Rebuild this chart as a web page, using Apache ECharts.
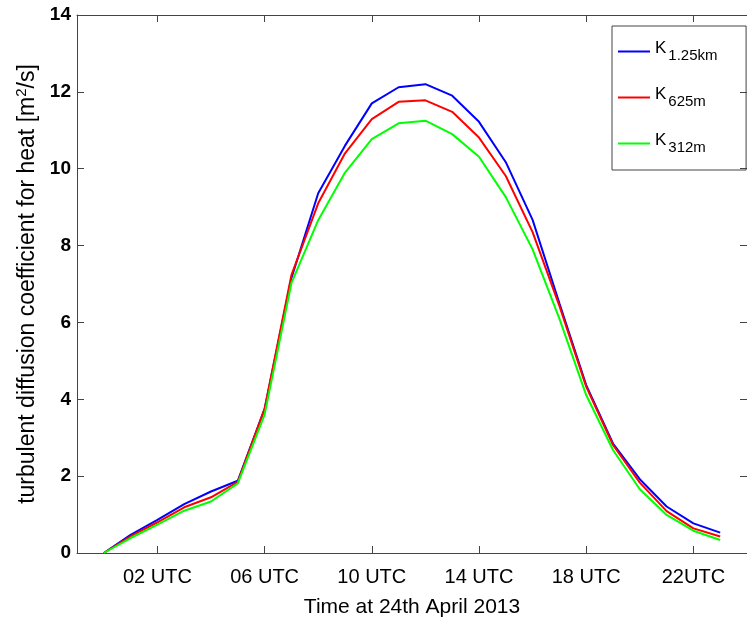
<!DOCTYPE html>
<html>
<head>
<meta charset="utf-8">
<script src="https://cdn.jsdelivr.net/npm/echarts@6/dist/echarts.min.js"></script>
<style>
  html, body { margin: 0; padding: 0; background: #fff; }
  #chart { width: 747px; height: 623px; }
</style>
</head>
<body>
<div id="chart"></div>
<script>
// hours of the day (UTC), one value per hour
const hours = [0, 1, 2, 3, 4, 5, 6, 7, 8, 9, 10, 11, 12, 13, 14, 15, 16, 17, 18, 19, 20, 21, 22, 23];
const k1250 = [0, 0.47, 0.86, 1.27, 1.60, 1.88, 3.75, 7.15, 9.36, 10.60, 11.70, 12.12, 12.20, 11.90, 11.22, 10.17, 8.67, 6.50, 4.37, 2.85, 1.92, 1.21, 0.77, 0.53];
const k625 = [0, 0.43, 0.80, 1.19, 1.45, 1.85, 3.75, 7.23, 9.10, 10.40, 11.29, 11.74, 11.78, 11.48, 10.81, 9.81, 8.35, 6.43, 4.33, 2.81, 1.83, 1.09, 0.64, 0.43];
const k312 = [0, 0.39, 0.74, 1.10, 1.34, 1.81, 3.60, 7.02, 8.66, 9.90, 10.77, 11.18, 11.25, 10.90, 10.31, 9.26, 7.90, 6.10, 4.11, 2.68, 1.66, 0.99, 0.58, 0.34];

const tickHours = [2, 6, 10, 14, 18, 22];
const tickLabels = ['02 UTC', '06 UTC', '10 UTC', '14 UTC', '18 UTC', '22UTC'];
const subs = ['1.25km', '625m', '312m'];

const pairs = (vals) => hours.map((h, i) => [h, vals[i]]);

const chart = echarts.init(document.getElementById('chart'));
const axisCol = '#444';
const font = 'Liberation Sans, Arial, sans-serif';

const option = {
  animation: false,
  grid: { left: 77, top: 15, right: -8, bottom: 70 },
  legend: {
    orient: 'vertical',
    left: 612,
    top: 26,
    itemWidth: 32,
    itemHeight: 2,
    itemGap: 23,
    padding: [14, 28, 15, 6],
    borderColor: '#444',
    borderWidth: 1,
    icon: 'rect',
    // K with the grid size as a subscript
    formatter: (name) => '{k|K}{s|' + name.slice(1) + '}{h| }',
    textStyle: {
      fontFamily: font,
      color: '#000',
      rich: {
        k: { fontSize: 17, lineHeight: 17, verticalAlign: 'top', fontFamily: font, color: '#000' },
        s: { fontSize: 15, lineHeight: 8, verticalAlign: 'bottom', padding: [0, 0, 0, 2], fontFamily: font, color: '#000' },
        h: { fontSize: 2, lineHeight: 23 }
      }
    },
    data: subs.map(s => 'K' + s)
  },
  xAxis: [{
    type: 'value',
    min: -1,
    max: 24,
    name: 'Time at 24th April 2013',
    nameLocation: 'middle',
    nameGap: 44,
    nameTextStyle: { fontSize: 21, fontFamily: font, color: '#000' },
    axisLine: { onZero: false, lineStyle: { color: axisCol } },
    axisTick: { inside: true, length: 7, customValues: tickHours, lineStyle: { color: axisCol } },
    axisLabel: {
      customValues: tickHours,
      formatter: (v) => tickLabels[tickHours.indexOf(v)],
      fontSize: 20, fontFamily: font, color: '#000', margin: 14
    },
    splitLine: { show: false }
  }, {
    type: 'value',
    position: 'top',
    min: -1,
    max: 24,
    axisLine: { show: true, onZero: false, lineStyle: { color: axisCol } },
    axisTick: { show: true, inside: true, length: 7, customValues: tickHours, lineStyle: { color: axisCol } },
    axisLabel: { show: false },
    splitLine: { show: false }
  }],
  yAxis: [{
    type: 'value',
    min: 0,
    max: 14,
    interval: 2,
    name: 'turbulent diffusion coefficient for heat [m{sup|2}/s]',
    nameLocation: 'middle',
    nameGap: 34,
    nameTextStyle: {
      fontSize: 23, fontFamily: font, color: '#000',
      rich: { sup: { fontSize: 15, fontFamily: font, color: '#000', verticalAlign: 'top', lineHeight: 27 } }
    },
    axisLine: { show: true, onZero: false, lineStyle: { color: axisCol } },
    axisTick: { show: true, inside: true, length: 7, lineStyle: { color: axisCol } },
    axisLabel: { fontSize: 19, fontWeight: 'bold', fontFamily: font, color: '#000', margin: 6 },
    splitLine: { show: false }
  }, {
    type: 'value',
    position: 'right',
    min: 0,
    max: 14,
    interval: 2,
    axisLine: { show: true, onZero: false, lineStyle: { color: axisCol } },
    axisTick: { show: true, inside: true, length: 7, lineStyle: { color: axisCol } },
    axisLabel: { show: false },
    splitLine: { show: false }
  }],
  series: [
    { name: 'K' + subs[0], type: 'line', data: pairs(k1250), color: '#0000ff' },
    { name: 'K' + subs[1], type: 'line', data: pairs(k625), color: '#ff0000' },
    { name: 'K' + subs[2], type: 'line', data: pairs(k312), color: '#00ff00' }
  ].map(s => Object.assign(s, {
    showSymbol: false,
    lineStyle: { width: 2, color: s.color }
  }))
};

chart.setOption(option);
</script>
</body>
</html>
